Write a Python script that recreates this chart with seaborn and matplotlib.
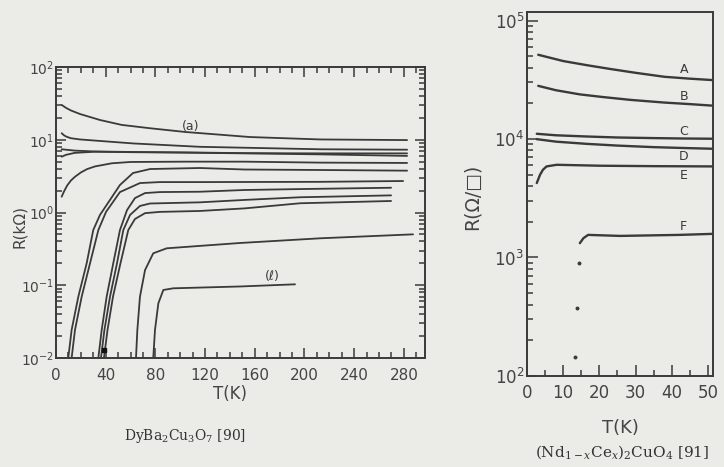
import numpy as np
import pandas as pd
import matplotlib
matplotlib.use("Agg")
import matplotlib.pyplot as plt
import seaborn as sns
from matplotlib.ticker import MultipleLocator, LogLocator, NullFormatter

#%% DATA

# left panel : DyBa2Cu3O7, R in kOhm vs T in K
a_T = [4.6, 8, 12, 19.3, 35.4, 52.9, 75.7, 103.9, 156.2, 212.6, 282.6]
a_R = [30.1, 27.5, 25.3, 22.6, 18.7, 16.0, 14.4, 12.8, 10.9, 10.1, 9.9]
c2_T = [4.6, 6.5, 8.6, 12, 19.3, 62.2, 115.9, 212.6, 282.6]
c2_R = [12.3, 11.5, 11.0, 10.5, 10.1, 8.9, 8.0, 7.4, 7.3]
c3_T = [4.6, 15, 31.4, 60, 104, 152, 212, 282.6]
c3_R = [7.4, 7.1, 6.9, 6.8, 6.7, 6.55, 6.5, 6.5]
c4_T = [4.6, 8, 15, 31.4, 60, 104, 152, 212, 282.6]
c4_R = [5.85, 6.2, 6.6, 6.85, 6.75, 6.65, 6.5, 6.3, 6.0]
c5_T = [4.6, 6.5, 9, 12, 15.3, 20, 25, 31.4, 45, 60, 104, 152, 212.6, 282.6]
c5_R = [1.65, 1.95, 2.35, 2.75, 3.1, 3.55, 3.95, 4.3, 4.75, 4.95, 5.0, 5.0, 4.85, 4.8]
c6_T = [9.9, 12.6, 18.0, 24.7, 30.0, 35.4, 43.5, 51.5, 62.0, 75.7, 115.9, 152, 212.6, 282.6]
c6_R = [0.01, 0.0243, 0.0697, 0.200, 0.574, 0.925, 1.49, 2.39, 3.49, 3.96, 4.09, 3.9, 3.84, 3.76]
c7_T = [12.6, 15.3, 20.7, 27.4, 34.1, 40.3, 51.5, 67.6, 83.7, 115.9, 212.6, 279.4]
c7_R = [0.01, 0.0243, 0.0697, 0.200, 0.574, 1.02, 1.91, 2.54, 2.62, 2.62, 2.64, 2.71]
c8_T = [34.1, 36.8, 40.8, 46.1, 51.5, 57.2, 63.6, 71.7, 83.7, 115.9, 152, 196.5, 269.7]
c8_R = [0.01, 0.0243, 0.0697, 0.200, 0.574, 1.08, 1.58, 1.85, 1.91, 1.93, 2.04, 2.10, 2.19]
c9_T = [36.2, 39.0, 43.5, 49.1, 54.2, 59.6, 67.6, 75.7, 115.9, 152, 196.5, 269.7]
c9_R = [0.01, 0.0243, 0.0697, 0.200, 0.574, 0.925, 1.23, 1.33, 1.38, 1.49, 1.62, 1.72]
c10_T = [38.6, 41.5, 45.9, 51.9, 58.2, 63.6, 71.7, 83.7, 115.9, 152, 196.5, 269.7]
c10_R = [0.01, 0.0243, 0.0697, 0.200, 0.574, 0.815, 0.98, 1.02, 1.05, 1.14, 1.34, 1.44]
c11_T = [64.4, 65.5, 67.6, 71.7, 78.3, 89.1, 148.1, 212.6, 287.4]
c11_R = [0.01, 0.0243, 0.0697, 0.162, 0.275, 0.322, 0.381, 0.442, 0.501]
l_T = [78.3, 79.7, 82.4, 86.4, 94.4, 148.1, 192.4]
l_R = [0.01, 0.0243, 0.0565, 0.0861, 0.0908, 0.0962, 0.103]

# right panel : (Nd1-xCex)2CuO4, R in Ohm/sq vs T in K
A_T = [3.1, 10, 16.5, 23, 30, 38, 45, 51.5]
A_R = [51400, 45500, 42000, 39000, 36200, 33500, 32300, 31400]
B_T = [3.1, 8, 14.6, 21, 28.5, 38, 45, 51.5]
B_R = [28100, 25800, 23800, 22600, 21400, 20300, 19700, 19100]
C_T = [2.7, 8, 16.5, 25, 34.9, 43, 51.5]
C_R = [11070, 10750, 10500, 10300, 10180, 10100, 10050]
D_T = [2.7, 8, 16.5, 25, 34.9, 43, 51.5]
D_R = [9970, 9500, 9100, 8800, 8540, 8400, 8270]
E_T = [2.7, 3.6, 4.4, 5.4, 8.2, 20.2, 35, 51.5]
E_R = [4250, 4990, 5500, 5870, 6060, 5950, 5900, 5870]
F_T = [14.6, 15.6, 16.9, 25.7, 42.3, 51.0, 51.5]
F_R = [1321, 1456, 1552, 1521, 1552, 1582, 1585]
F_dots_T = [14.4, 13.9, 13.3]
F_dots_R = [906, 373, 146]

left_x_ticks = [0, 40, 80, 120, 160, 200, 240, 280]
right_x_ticks = [0, 10, 20, 30, 40, 50]

#%% TABLES

left = {'a': (a_T, a_R), 'c2': (c2_T, c2_R), 'c3': (c3_T, c3_R),
        'c4': (c4_T, c4_R), 'c5': (c5_T, c5_R), 'c6': (c6_T, c6_R),
        'c7': (c7_T, c7_R), 'c8': (c8_T, c8_R), 'c9': (c9_T, c9_R),
        'c10': (c10_T, c10_R), 'c11': (c11_T, c11_R), 'l': (l_T, l_R)}
df_left = pd.concat([pd.DataFrame({'T': t, 'R': r, 'curve': k})
                     for k, (t, r) in left.items()], ignore_index=True)

right = {'A': (A_T, A_R), 'B': (B_T, B_R), 'C': (C_T, C_R),
         'D': (D_T, D_R), 'E': (E_T, E_R), 'F': (F_T, F_R)}
df_right = pd.concat([pd.DataFrame({'T': t, 'R': r, 'curve': k})
                      for k, (t, r) in right.items()], ignore_index=True)

#%% FIGURE

sns.set_theme(style='ticks')
plt.rcParams['font.family'] = ['DejaVu Sans']
plt.rcParams['mathtext.fontset'] = 'dejavusans'

paper = '#ebebe8'
ink = '#3a3a3a'

fig = plt.figure(figsize=(7.24, 4.67), dpi=100, facecolor=paper)
ax1 = fig.add_axes([0.0773, 0.2334, 0.5097, 0.6231], facecolor=paper)
ax2 = fig.add_axes([0.7279, 0.1949, 0.2569, 0.7794], facecolor=paper)

# left panel
ax1.set_yscale('log')
sns.lineplot(data=df_left, x='T', y='R', units='curve', estimator=None,
             sort=False, color=ink, lw=1.3, ax=ax1)
ax1.plot([39], [0.013], marker='s', ms=2.5, color='#111111')
ax1.set_xlim(0, 297)
ax1.set_ylim(1e-2, 1e2)
ax1.set_xticks(left_x_ticks)
ax1.xaxis.set_minor_locator(MultipleLocator(10))
ax1.yaxis.set_major_locator(LogLocator(base=10))
ax1.yaxis.set_minor_locator(LogLocator(base=10, subs=np.arange(2, 10)))
ax1.yaxis.set_minor_formatter(NullFormatter())
ax1.tick_params(which='both', direction='in', top=True, right=True,
                color=ink, labelcolor='#444444', width=1.1)
ax1.tick_params(axis='x', labelsize=11, pad=7)
ax1.tick_params(axis='y', labelsize=10, pad=1.5)
ax1.tick_params(which='major', length=7)
ax1.tick_params(which='minor', length=4)
ax1.set_xlabel('')
ax1.set_ylabel('')
ax1.text(108, 15, '(a)', fontsize=9, color=ink, ha='center', va='center')
ax1.text(174, 0.131, '(ℓ)', fontsize=9, color=ink, ha='center', va='center')

# right panel
ax2.set_yscale('log')
sns.lineplot(data=df_right, x='T', y='R', units='curve', estimator=None,
             sort=False, color=ink, lw=1.7, ax=ax2)
sns.scatterplot(x=F_dots_T, y=F_dots_R, color=ink, s=8, linewidth=0, ax=ax2)
ax2.set_xlim(0, 51.4)
ax2.set_ylim(1e2, 1.18e5)
ax2.set_xticks(right_x_ticks)
ax2.xaxis.set_minor_locator(MultipleLocator(5))
ax2.yaxis.set_major_locator(LogLocator(base=10))
ax2.yaxis.set_minor_locator(LogLocator(base=10, subs=np.arange(2, 10)))
ax2.yaxis.set_minor_formatter(NullFormatter())
ax2.tick_params(which='both', direction='in', color=ink,
                labelcolor='#444444', labelsize=12, width=1.1)
ax2.tick_params(axis='y', pad=2)
ax2.tick_params(axis='x', pad=6)
ax2.tick_params(which='major', length=8)
ax2.tick_params(which='minor', length=4)
ax2.set_xlabel('')
ax2.set_ylabel('')
for lab, t, r in [('A', 43.3, 38400), ('B', 43.3, 22900), ('C', 43.3, 11560),
                  ('D', 43.3, 7110), ('E', 43.3, 4890), ('F', 43.3, 1824)]:
    ax2.text(t, r, lab, fontsize=9, color=ink, ha='center', va='center')

for ax in (ax1, ax2):
    for s in ax.spines.values():
        s.set_color(ink)
        s.set_linewidth(1.4)

# axis titles and captions
fig.text(20 / 724, 1 - 226 / 467, 'R(kΩ)', rotation=90, fontsize=11,
         color='#444444', ha='center', va='center')
fig.text(230 / 724, 1 - 394 / 467, 'T(K)', fontsize=12, color='#444444',
         ha='center', va='center')
fig.text(185 / 724, 1 - 436 / 467, r'DyBa$_2$Cu$_3$O$_7$ [90]', fontsize=10,
         color='#333333', ha='center', va='center', family='DejaVu Serif',
         math_fontfamily='dejavuserif')
fig.text(472 / 724, 1 - 197 / 467, 'R(Ω/□)', rotation=90, fontsize=13.5,
         color='#444444', ha='center', va='center')
fig.text(620 / 724, 1 - 428 / 467, 'T(K)', fontsize=13, color='#444444',
         ha='center', va='center')
fig.text(622 / 724, 1 - 452 / 467, r'(Nd$_{1-x}$Ce$_x$)$_2$CuO$_4$ [91]',
         fontsize=11, color='#333333', ha='center', va='center',
         family='DejaVu Serif', math_fontfamily='dejavuserif')

plt.savefig('out.png', dpi=100, facecolor=paper)
